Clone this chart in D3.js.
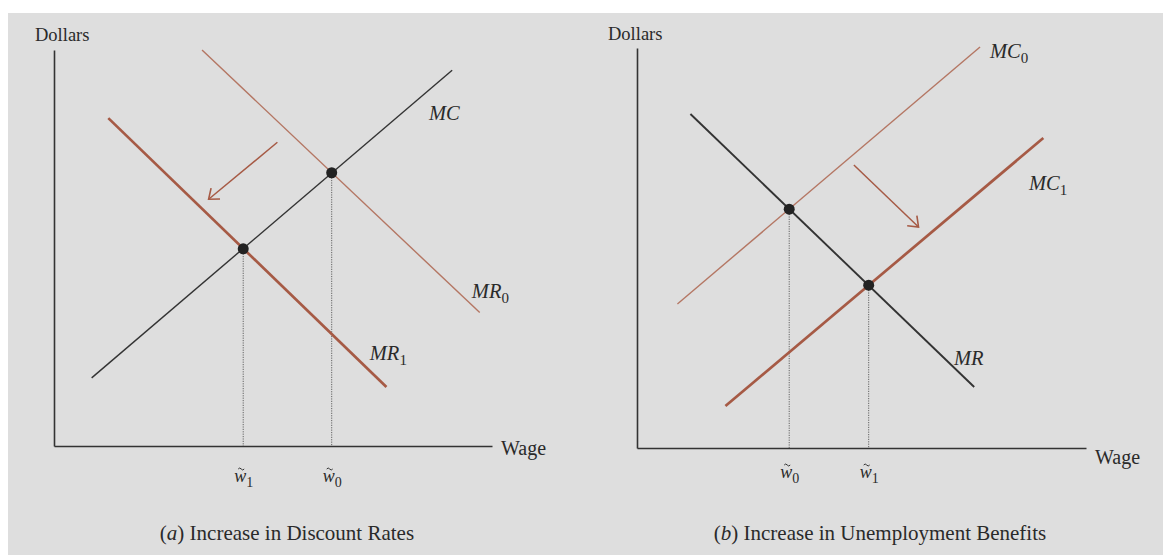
<!DOCTYPE html>
<html>
<head>
<meta charset="utf-8">
<script src="https://cdn.jsdelivr.net/npm/d3@7"></script>
<style>
  body { margin: 0; background: #fff; }
  svg text { font-family: "Liberation Serif", "Times New Roman", serif; fill: #2a2a2a; }
</style>
</head>
<body>
<div id="chart"></div>
<script>
// Panel (a): curves (wage, dollars in 0-100 units)
const mcA = [[8.6, 17.2], [90.9, 94.9]];
const mr0A = [[33.8, 100], [97.2, 33.7]];
const mr1A = [[12.4, 82.8], [75.9, 14.9]];
const shiftA = [[51.0, 76.7], [35.3, 62.3]];
const eqA = [[43.2, 49.8], [63.4, 69.0]];
const wageLabelsA = ["1", "0"];
const curveLabelsA = [
  {name: "MC", sub: "", at: [85.6, 82.3]},
  {name: "MR", sub: "0", at: [95.4, 37.4]},
  {name: "MR", sub: "1", at: [72.1, 21.7]}
];

// Panel (b)
const mrB = [[11.9, 83.5], [75.1, 15.25]];
const mc0B = [[76.4, 100.25], [9.0, 36.0]];
const mc1B = [[90.5, 77.5], [19.7, 10.5]];
const shiftB = [[48.3, 70.75], [62.7, 55.25]];
const eqB = [[33.9, 59.7], [51.6, 40.7]];
const wageLabelsB = ["0", "1"];
const curveLabelsB = [
  {name: "MC", sub: "0", at: [78.6, 97.5]},
  {name: "MC", sub: "1", at: [87.3, 64.5]},
  {name: "MR", sub: "", at: [70.6, 20.75]}
];

const brown = "#a65a45", brownLight = "#b47663", ink = "#333";

const svg = d3.select("#chart").append("svg")
  .attr("width", 1163)
  .attr("height", 555);

// paper
svg.append("rect")
  .attr("x", 8).attr("y", 13)
  .attr("width", 1155).attr("height", 542)
  .attr("fill", "#dedede");

svg.append("defs").append("marker")
  .attr("id", "head")
  .attr("markerUnits", "userSpaceOnUse")
  .attr("markerWidth", 20).attr("markerHeight", 20)
  .attr("refX", 10).attr("refY", 10)
  .attr("orient", "auto")
  .append("path")
  .attr("d", "M1,3 L10,10 L1,17")
  .attr("fill", "none")
  .attr("stroke", brown)
  .attr("stroke-width", 1.6);

function drawPanel(cfg) {
  const x = d3.scaleLinear().domain([0, 100]).range(cfg.xRange);
  const y = d3.scaleLinear().domain([0, 100]).range(cfg.yRange);
  const g = svg.append("g");
  const line = d3.line().x(d => x(d[0])).y(d => y(d[1]));

  // axes (domain lines only)
  const xAxis = g.append("g")
    .attr("transform", "translate(0," + y(0) + ")")
    .call(d3.axisBottom(x).tickValues([]).tickSizeOuter(0));
  const yAxis = g.append("g")
    .attr("transform", "translate(" + x(0) + ",0)")
    .call(d3.axisLeft(y).tickValues([]).tickSizeOuter(0));
  [xAxis, yAxis].forEach(a => a.select(".domain")
    .attr("stroke", ink).attr("stroke-width", 1.6));

  // dotted drop lines
  g.selectAll(".drop")
    .data(cfg.eq)
    .enter().append("line")
    .attr("x1", d => x(d[0])).attr("x2", d => x(d[0]))
    .attr("y1", d => y(d[1])).attr("y2", y(0))
    .attr("stroke", "#555")
    .attr("stroke-width", 0.9)
    .attr("stroke-dasharray", "1.2,1.2");

  cfg.curves.forEach(c => {
    g.append("path")
      .attr("d", line(c.pts))
      .attr("fill", "none")
      .attr("stroke", c.color)
      .attr("stroke-width", c.w);
  });

  g.append("path")
    .attr("d", line(cfg.shift))
    .attr("fill", "none")
    .attr("stroke", brown)
    .attr("stroke-width", 1.5)
    .attr("marker-end", "url(#head)");

  g.selectAll(".eq")
    .data(cfg.eq)
    .enter().append("circle")
    .attr("cx", d => x(d[0]))
    .attr("cy", d => y(d[1]))
    .attr("r", 5.5)
    .attr("fill", "#222");

  // curve labels
  cfg.labels.forEach(l => {
    const t = g.append("text")
      .attr("x", x(l.at[0])).attr("y", y(l.at[1]))
      .attr("font-size", 20.5)
      .attr("font-style", "italic")
      .text(l.name);
    if (l.sub) t.append("tspan")
      .attr("dy", 5).attr("font-size", 15).attr("font-style", "normal")
      .text(l.sub);
  });

  // wage markers: w with tilde and subscript
  cfg.eq.forEach((d, i) => {
    const cx = x(d[0]);
    const by = y(0) + cfg.wOffset;
    const t = g.append("text")
      .attr("x", cx - 9).attr("y", by)
      .attr("font-size", 18)
      .attr("font-style", "italic")
      .text("w");
    t.append("tspan")
      .attr("dy", 5).attr("font-size", 14).attr("font-style", "normal")
      .text(cfg.wLabels[i]);
    g.append("path")
      .attr("d", "M" + (cx - 5) + "," + (by - 13) +
        " q1.5,-2 3,0 t3,0")
      .attr("fill", "none")
      .attr("stroke", "#333")
      .attr("stroke-width", 1);
  });

  g.append("text")
    .attr("x", cfg.dollarsAt[0]).attr("y", cfg.dollarsAt[1])
    .attr("font-size", 18.5)
    .text("Dollars");

  g.append("text")
    .attr("x", x(100) + 9).attr("y", y(0) + cfg.wageDy)
    .attr("font-size", 20)
    .text("Wage");

  const cap = g.append("text")
    .attr("x", cfg.captionX).attr("y", 540)
    .attr("text-anchor", "middle")
    .attr("font-size", 21);
  cap.append("tspan").text("(");
  cap.append("tspan").attr("font-style", "italic").text(cfg.letter);
  cap.append("tspan").text(") " + cfg.caption);
}

drawPanel({
  xRange: [54, 492], yRange: [446, 50],
  curves: [
    {pts: mcA, color: ink, w: 1.4},
    {pts: mr0A, color: brownLight, w: 1.4},
    {pts: mr1A, color: brown, w: 2.7}
  ],
  shift: shiftA, eq: eqA, labels: curveLabelsA, wLabels: wageLabelsA,
  wOffset: 36, wageDy: 9, dollarsAt: [35, 41],
  captionX: 287, letter: "a", caption: "Increase in Discount Rates"
});

drawPanel({
  xRange: [637, 1086], yRange: [448, 48],
  curves: [
    {pts: mrB, color: ink, w: 1.9},
    {pts: mc0B, color: brownLight, w: 1.4},
    {pts: mc1B, color: brown, w: 2.7}
  ],
  shift: shiftB, eq: eqB, labels: curveLabelsB, wLabels: wageLabelsB,
  wOffset: 30, wageDy: 16, dollarsAt: [608, 40],
  captionX: 880, letter: "b", caption: "Increase in Unemployment Benefits"
});
</script>
</body>
</html>
